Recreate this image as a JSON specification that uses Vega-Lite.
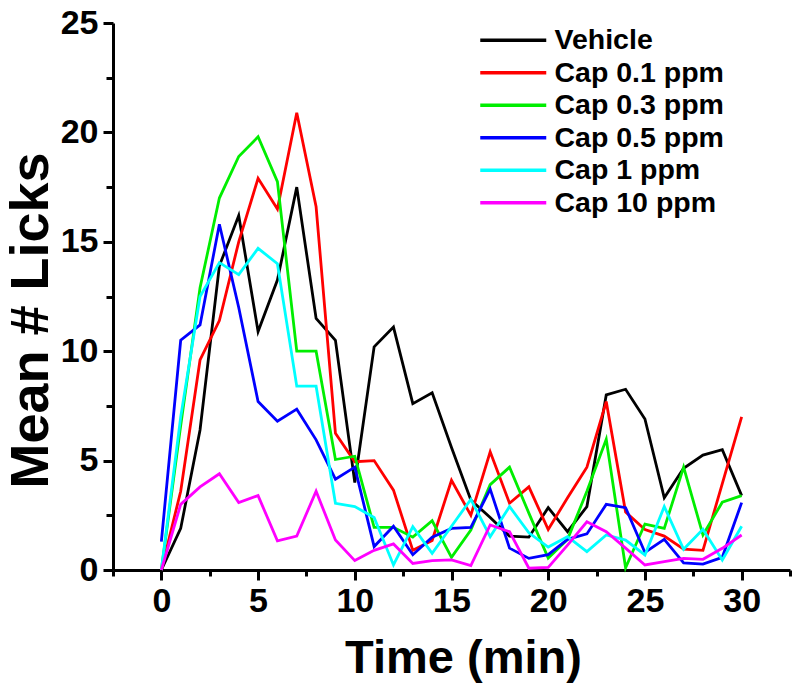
{
  "$schema": "https://vega.github.io/schema/vega-lite/v6.json",
  "width": 677,
  "height": 547,
  "autosize": {"type": "none"},
  "padding": {"left": 113, "top": 23, "right": 10, "bottom": 122},
  "background": "white",
  "config": {
    "view": {"stroke": null},
    "font": "Liberation Sans, Arial, sans-serif",
    "axis": {
      "grid": false,
      "domainColor": "black",
      "domainWidth": 3,
      "tickColor": "black",
      "tickWidth": 3,
      "labelFont": "Liberation Sans, Arial, sans-serif",
      "labelFontWeight": "bold",
      "labelFontSize": 34,
      "labelColor": "black",
      "titleColor": "black",
      "titleFont": "Liberation Sans, Arial, sans-serif",
      "titleFontWeight": "bold"
    }
  },
  "data": {
    "values": [
      {"g": "Vehicle", "t": 0, "v": 0}, {"g": "Vehicle", "t": 1, "v": 1.9}, {"g": "Vehicle", "t": 2, "v": 6.4}, {"g": "Vehicle", "t": 3, "v": 13.9}, {"g": "Vehicle", "t": 4, "v": 16.2}, {"g": "Vehicle", "t": 5, "v": 10.9}, {"g": "Vehicle", "t": 6, "v": 13.25}, {"g": "Vehicle", "t": 7, "v": 17.5}, {"g": "Vehicle", "t": 8, "v": 11.5}, {"g": "Vehicle", "t": 9, "v": 10.5}, {"g": "Vehicle", "t": 10, "v": 4.0}, {"g": "Vehicle", "t": 11, "v": 10.2}, {"g": "Vehicle", "t": 12, "v": 11.1}, {"g": "Vehicle", "t": 13, "v": 7.6}, {"g": "Vehicle", "t": 14, "v": 8.1}, {"g": "Vehicle", "t": 15, "v": 5.6}, {"g": "Vehicle", "t": 16, "v": 3.2}, {"g": "Vehicle", "t": 17, "v": 2.4}, {"g": "Vehicle", "t": 18, "v": 1.55}, {"g": "Vehicle", "t": 19, "v": 1.5}, {"g": "Vehicle", "t": 20, "v": 2.85}, {"g": "Vehicle", "t": 21, "v": 1.75}, {"g": "Vehicle", "t": 22, "v": 2.9}, {"g": "Vehicle", "t": 23, "v": 8.0}, {"g": "Vehicle", "t": 24, "v": 8.26}, {"g": "Vehicle", "t": 25, "v": 6.9}, {"g": "Vehicle", "t": 26, "v": 3.3}, {"g": "Vehicle", "t": 27, "v": 4.65}, {"g": "Vehicle", "t": 28, "v": 5.25}, {"g": "Vehicle", "t": 29, "v": 5.5}, {"g": "Vehicle", "t": 30, "v": 3.4},
      {"g": "Cap 0.1 ppm", "t": 0, "v": 0}, {"g": "Cap 0.1 ppm", "t": 1, "v": 3.6}, {"g": "Cap 0.1 ppm", "t": 2, "v": 9.6}, {"g": "Cap 0.1 ppm", "t": 3, "v": 11.4}, {"g": "Cap 0.1 ppm", "t": 4, "v": 15.0}, {"g": "Cap 0.1 ppm", "t": 5, "v": 17.9}, {"g": "Cap 0.1 ppm", "t": 6, "v": 16.5}, {"g": "Cap 0.1 ppm", "t": 7, "v": 20.9}, {"g": "Cap 0.1 ppm", "t": 8, "v": 16.6}, {"g": "Cap 0.1 ppm", "t": 9, "v": 6.25}, {"g": "Cap 0.1 ppm", "t": 10, "v": 4.95}, {"g": "Cap 0.1 ppm", "t": 11, "v": 5.0}, {"g": "Cap 0.1 ppm", "t": 12, "v": 3.65}, {"g": "Cap 0.1 ppm", "t": 13, "v": 0.9}, {"g": "Cap 0.1 ppm", "t": 14, "v": 1.35}, {"g": "Cap 0.1 ppm", "t": 15, "v": 4.1}, {"g": "Cap 0.1 ppm", "t": 16, "v": 2.5}, {"g": "Cap 0.1 ppm", "t": 17, "v": 5.4}, {"g": "Cap 0.1 ppm", "t": 18, "v": 3.05}, {"g": "Cap 0.1 ppm", "t": 19, "v": 3.8}, {"g": "Cap 0.1 ppm", "t": 20, "v": 1.85}, {"g": "Cap 0.1 ppm", "t": 21, "v": 3.3}, {"g": "Cap 0.1 ppm", "t": 22, "v": 4.7}, {"g": "Cap 0.1 ppm", "t": 23, "v": 7.7}, {"g": "Cap 0.1 ppm", "t": 24, "v": 2.65}, {"g": "Cap 0.1 ppm", "t": 25, "v": 1.85}, {"g": "Cap 0.1 ppm", "t": 26, "v": 1.55}, {"g": "Cap 0.1 ppm", "t": 27, "v": 0.95}, {"g": "Cap 0.1 ppm", "t": 28, "v": 0.9}, {"g": "Cap 0.1 ppm", "t": 29, "v": 3.95}, {"g": "Cap 0.1 ppm", "t": 30, "v": 7.0},
      {"g": "Cap 0.3 ppm", "t": 0, "v": 0}, {"g": "Cap 0.3 ppm", "t": 1, "v": 6.6}, {"g": "Cap 0.3 ppm", "t": 2, "v": 12.9}, {"g": "Cap 0.3 ppm", "t": 3, "v": 17.0}, {"g": "Cap 0.3 ppm", "t": 4, "v": 18.9}, {"g": "Cap 0.3 ppm", "t": 5, "v": 19.8}, {"g": "Cap 0.3 ppm", "t": 6, "v": 17.75}, {"g": "Cap 0.3 ppm", "t": 7, "v": 10.0}, {"g": "Cap 0.3 ppm", "t": 8, "v": 10.0}, {"g": "Cap 0.3 ppm", "t": 9, "v": 5.05}, {"g": "Cap 0.3 ppm", "t": 10, "v": 5.2}, {"g": "Cap 0.3 ppm", "t": 11, "v": 1.95}, {"g": "Cap 0.3 ppm", "t": 12, "v": 1.95}, {"g": "Cap 0.3 ppm", "t": 13, "v": 1.5}, {"g": "Cap 0.3 ppm", "t": 14, "v": 2.25}, {"g": "Cap 0.3 ppm", "t": 15, "v": 0.58}, {"g": "Cap 0.3 ppm", "t": 16, "v": 1.83}, {"g": "Cap 0.3 ppm", "t": 17, "v": 3.9}, {"g": "Cap 0.3 ppm", "t": 18, "v": 4.7}, {"g": "Cap 0.3 ppm", "t": 19, "v": 2.6}, {"g": "Cap 0.3 ppm", "t": 20, "v": 0.55}, {"g": "Cap 0.3 ppm", "t": 21, "v": 1.4}, {"g": "Cap 0.3 ppm", "t": 22, "v": 3.6}, {"g": "Cap 0.3 ppm", "t": 23, "v": 5.97}, {"g": "Cap 0.3 ppm", "t": 24, "v": 0.1}, {"g": "Cap 0.3 ppm", "t": 25, "v": 2.1}, {"g": "Cap 0.3 ppm", "t": 26, "v": 1.9}, {"g": "Cap 0.3 ppm", "t": 27, "v": 4.7}, {"g": "Cap 0.3 ppm", "t": 28, "v": 1.6}, {"g": "Cap 0.3 ppm", "t": 29, "v": 3.1}, {"g": "Cap 0.3 ppm", "t": 30, "v": 3.4},
      {"g": "Cap 0.5 ppm", "t": 0, "v": 1.3}, {"g": "Cap 0.5 ppm", "t": 1, "v": 10.5}, {"g": "Cap 0.5 ppm", "t": 2, "v": 11.2}, {"g": "Cap 0.5 ppm", "t": 3, "v": 15.8}, {"g": "Cap 0.5 ppm", "t": 4, "v": 12.0}, {"g": "Cap 0.5 ppm", "t": 5, "v": 7.7}, {"g": "Cap 0.5 ppm", "t": 6, "v": 6.8}, {"g": "Cap 0.5 ppm", "t": 7, "v": 7.35}, {"g": "Cap 0.5 ppm", "t": 8, "v": 5.95}, {"g": "Cap 0.5 ppm", "t": 9, "v": 4.15}, {"g": "Cap 0.5 ppm", "t": 10, "v": 4.7}, {"g": "Cap 0.5 ppm", "t": 11, "v": 1.07}, {"g": "Cap 0.5 ppm", "t": 12, "v": 2.0}, {"g": "Cap 0.5 ppm", "t": 13, "v": 0.7}, {"g": "Cap 0.5 ppm", "t": 14, "v": 1.5}, {"g": "Cap 0.5 ppm", "t": 15, "v": 1.9}, {"g": "Cap 0.5 ppm", "t": 16, "v": 1.95}, {"g": "Cap 0.5 ppm", "t": 17, "v": 3.7}, {"g": "Cap 0.5 ppm", "t": 18, "v": 1.0}, {"g": "Cap 0.5 ppm", "t": 19, "v": 0.53}, {"g": "Cap 0.5 ppm", "t": 20, "v": 0.7}, {"g": "Cap 0.5 ppm", "t": 21, "v": 1.4}, {"g": "Cap 0.5 ppm", "t": 22, "v": 1.65}, {"g": "Cap 0.5 ppm", "t": 23, "v": 3.0}, {"g": "Cap 0.5 ppm", "t": 24, "v": 2.85}, {"g": "Cap 0.5 ppm", "t": 25, "v": 0.8}, {"g": "Cap 0.5 ppm", "t": 26, "v": 1.4}, {"g": "Cap 0.5 ppm", "t": 27, "v": 0.33}, {"g": "Cap 0.5 ppm", "t": 28, "v": 0.27}, {"g": "Cap 0.5 ppm", "t": 29, "v": 0.58}, {"g": "Cap 0.5 ppm", "t": 30, "v": 3.08},
      {"g": "Cap 1 ppm", "t": 0, "v": 0}, {"g": "Cap 1 ppm", "t": 1, "v": 7.0}, {"g": "Cap 1 ppm", "t": 2, "v": 12.5}, {"g": "Cap 1 ppm", "t": 3, "v": 14.05}, {"g": "Cap 1 ppm", "t": 4, "v": 13.5}, {"g": "Cap 1 ppm", "t": 5, "v": 14.7}, {"g": "Cap 1 ppm", "t": 6, "v": 14.0}, {"g": "Cap 1 ppm", "t": 7, "v": 8.4}, {"g": "Cap 1 ppm", "t": 8, "v": 8.4}, {"g": "Cap 1 ppm", "t": 9, "v": 3.05}, {"g": "Cap 1 ppm", "t": 10, "v": 2.9}, {"g": "Cap 1 ppm", "t": 11, "v": 2.4}, {"g": "Cap 1 ppm", "t": 12, "v": 0.23}, {"g": "Cap 1 ppm", "t": 13, "v": 1.98}, {"g": "Cap 1 ppm", "t": 14, "v": 0.76}, {"g": "Cap 1 ppm", "t": 15, "v": 2.0}, {"g": "Cap 1 ppm", "t": 16, "v": 3.23}, {"g": "Cap 1 ppm", "t": 17, "v": 1.52}, {"g": "Cap 1 ppm", "t": 18, "v": 2.9}, {"g": "Cap 1 ppm", "t": 19, "v": 1.7}, {"g": "Cap 1 ppm", "t": 20, "v": 1.05}, {"g": "Cap 1 ppm", "t": 21, "v": 1.52}, {"g": "Cap 1 ppm", "t": 22, "v": 0.84}, {"g": "Cap 1 ppm", "t": 23, "v": 1.6}, {"g": "Cap 1 ppm", "t": 24, "v": 1.37}, {"g": "Cap 1 ppm", "t": 25, "v": 0.69}, {"g": "Cap 1 ppm", "t": 26, "v": 2.9}, {"g": "Cap 1 ppm", "t": 27, "v": 0.95}, {"g": "Cap 1 ppm", "t": 28, "v": 1.86}, {"g": "Cap 1 ppm", "t": 29, "v": 0.46}, {"g": "Cap 1 ppm", "t": 30, "v": 2.0},
      {"g": "Cap 10 ppm", "t": 0, "v": 0}, {"g": "Cap 10 ppm", "t": 1, "v": 3.0}, {"g": "Cap 10 ppm", "t": 2, "v": 3.8}, {"g": "Cap 10 ppm", "t": 3, "v": 4.4}, {"g": "Cap 10 ppm", "t": 4, "v": 3.08}, {"g": "Cap 10 ppm", "t": 5, "v": 3.4}, {"g": "Cap 10 ppm", "t": 6, "v": 1.33}, {"g": "Cap 10 ppm", "t": 7, "v": 1.55}, {"g": "Cap 10 ppm", "t": 8, "v": 3.6}, {"g": "Cap 10 ppm", "t": 9, "v": 1.37}, {"g": "Cap 10 ppm", "t": 10, "v": 0.43}, {"g": "Cap 10 ppm", "t": 11, "v": 0.9}, {"g": "Cap 10 ppm", "t": 12, "v": 1.19}, {"g": "Cap 10 ppm", "t": 13, "v": 0.3}, {"g": "Cap 10 ppm", "t": 14, "v": 0.43}, {"g": "Cap 10 ppm", "t": 15, "v": 0.46}, {"g": "Cap 10 ppm", "t": 16, "v": 0.2}, {"g": "Cap 10 ppm", "t": 17, "v": 2.06}, {"g": "Cap 10 ppm", "t": 18, "v": 1.75}, {"g": "Cap 10 ppm", "t": 19, "v": 0.08}, {"g": "Cap 10 ppm", "t": 20, "v": 0.12}, {"g": "Cap 10 ppm", "t": 21, "v": 1.14}, {"g": "Cap 10 ppm", "t": 22, "v": 2.2}, {"g": "Cap 10 ppm", "t": 23, "v": 1.75}, {"g": "Cap 10 ppm", "t": 24, "v": 1.0}, {"g": "Cap 10 ppm", "t": 25, "v": 0.23}, {"g": "Cap 10 ppm", "t": 26, "v": 0.38}, {"g": "Cap 10 ppm", "t": 27, "v": 0.53}, {"g": "Cap 10 ppm", "t": 28, "v": 0.49}, {"g": "Cap 10 ppm", "t": 29, "v": 0.99}, {"g": "Cap 10 ppm", "t": 30, "v": 1.6}
    ]
  },
  "layer": [
    {
      "mark": {"type": "line", "opacity": 0},
      "encoding": {
        "x": {"field": "t", "type": "quantitative", "scale": {"domain": [-2.5, 32.5], "nice": false, "zero": false},
          "axis": {"orient": "bottom", "values": [-2.5, 2.5, 7.5, 12.5, 17.5, 22.5, 27.5, 32.5], "tickSize": 6, "tickWidth": 3, "labels": false, "domain": false, "title": null}},
        "y": {"field": "v", "type": "quantitative", "scale": {"domain": [0, 25], "nice": false},
          "axis": {"orient": "left", "values": [2.5, 7.5, 12.5, 17.5, 22.5], "tickSize": 7, "tickWidth": 3, "labels": false, "domain": false, "title": null}},
        "detail": {"field": "g", "type": "nominal"}
      }
    },
    {
      "mark": {"type": "line", "strokeWidth": 2.8},
      "encoding": {
        "x": {"field": "t", "type": "quantitative", "scale": {"domain": [-2.5, 32.5], "nice": false, "zero": false},
          "axis": {"orient": "bottom", "values": [0, 5, 10, 15, 20, 25, 30], "tickSize": 10, "tickWidth": 3, "domainWidth": 3, "labelPadding": 4, "title": "Time (min)", "titleFontSize": 47, "titleX": 350, "titleY": 102, "titleBaseline": "alphabetic"}},
        "y": {"field": "v", "type": "quantitative", "scale": {"domain": [0, 25], "nice": false},
          "axis": {"orient": "left", "values": [0, 5, 10, 15, 20, 25], "tickSize": 10, "tickWidth": 3, "domainWidth": 3, "labelPadding": 5, "title": "Mean # Licks", "titleFontSize": 54, "titlePadding": 2, "titleY": 297}},
        "color": {"field": "g", "type": "nominal",
          "scale": {"domain": ["Vehicle", "Cap 0.1 ppm", "Cap 0.3 ppm", "Cap 0.5 ppm", "Cap 1 ppm", "Cap 10 ppm"], "range": ["#000000", "#ff0000", "#00ee00", "#0000ff", "#00ffff", "#ff00ff"]},
          "legend": {"orient": "none", "legendX": 386, "legendY": 3, "title": null, "symbolType": "M-3,0H3", "symbolSize": 484, "symbolStrokeWidth": 3.5, "labelFontSize": 28.5, "labelFont": "Liberation Sans, Arial, sans-serif", "labelFontWeight": "bold", "labelColor": "black", "labelOffset": 27, "rowPadding": 3.5, "labelLimit": 400}}
      }
    }
  ],
  "resolve": {"axis": {"x": "independent", "y": "independent"}}
}
